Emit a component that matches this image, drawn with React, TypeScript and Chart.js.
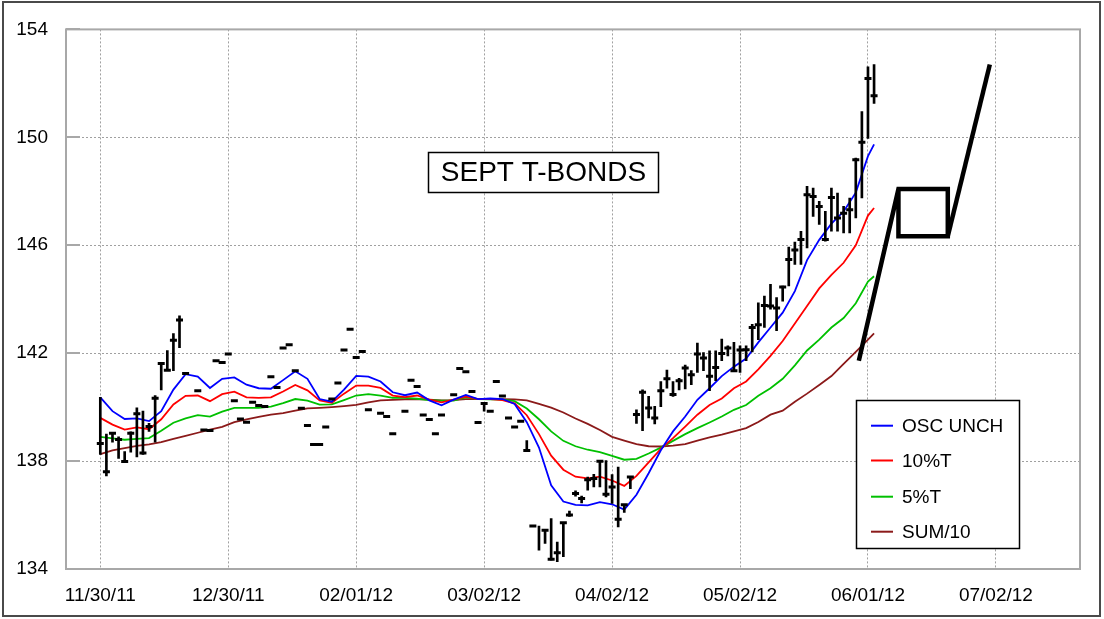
import React, { useEffect, useRef } from "react";
import { Chart, registerables } from "chart.js";

Chart.register(...registerables);

// ---------- axis labels ----------
const tickDates = ["11/30/11", "12/30/11", "02/01/12", "03/02/12", "04/02/12", "05/02/12", "06/01/12", "07/02/12"];
const TICK_EVERY = 21; // trading days between date labels
const yTickValues = [134, 138, 142, 146, 150, 154];
const chartTitle = "SEPT T-BONDS";

// ---------- daily bars (index = trading day from 11/30/11) ----------
const barHigh: (number | null)[] = [
  140.36, 139.0, 139.07, 138.9, 138.35, 139.08, 139.97, 139.85, 139.4, 140.43,
  141.66, 142.1, 142.73, 143.38, null, null, null, null, null, null,
  null, null, null, null, null, null, null, null, null, null,
  null, null, null, null, null, null, null, null, null, null,
  null, null, null, null, null, null, null, null, null, null,
  null, null, null, null, null, null, null, null, null, null,
  null, null, null, 140.15, null, null, null, null, null, null,
  138.76, null, 135.59, 135.44, 135.87, 135.0, 135.71, 136.15, 136.9, 136.7,
  137.41, 137.51, 137.99, 138.02, 137.5, 137.78, 136.4, 137.41, 139.9, 140.64,
  140.4, 140.03, 140.95, 141.37, 140.95, 141.07, 141.56, 141.35, 142.37, 142.02,
  142.09, 142.09, 142.52, 142.27, 142.4, 142.27, 142.27, 143.07, 143.87, 144.12,
  144.55, 144.06, 144.49, 145.93, 146.12, 146.52, 148.18, 148.12, 147.63, 147.26,
  148.12, 147.93, 147.44, 147.75, 149.23, 150.95, 152.61, 152.7,
];
const barLow: (number | null)[] = [
  138.25, 137.45, 138.7, 138.1, 137.95, 138.33, 138.15, 138.25, 139.1, 138.7,
  140.64, 141.35, 141.35, 142.2, null, null, null, null, null, null,
  null, null, null, null, null, null, null, null, null, null,
  null, null, null, null, null, null, null, null, null, null,
  null, null, null, null, null, null, null, null, null, null,
  null, null, null, null, null, null, null, null, null, null,
  null, null, null, 139.85, null, null, null, null, null, null,
  138.37, null, 134.7, 134.95, 134.33, 134.27, 134.46, 135.95, 136.7, 136.45,
  136.92, 137.04, 137.04, 136.67, 136.43, 135.56, 136.1, 136.98, 139.4, 139.13,
  139.6, 139.38, 140.02, 140.7, 140.4, 140.64, 140.67, 140.83, 141.29, 141.35,
  140.61, 140.98, 141.72, 141.9, 141.35, 141.29, 141.72, 142.05, 142.5, 142.95,
  143.63, 142.83, 143.93, 144.49, 145.29, 145.29, 145.9, 147.07, 146.77, 146.15,
  146.52, 146.52, 146.46, 146.46, 147.01, 147.75, 149.96, 151.26,
];
const barClose: (number | null)[] = [
  138.65, 137.6, 139.03, 138.8, 137.98, 139.03, 139.75, 138.3, 139.28, 140.33,
  141.62, 141.37, 142.48, 143.23, 141.25, null, 140.61, 139.15, 139.13, 141.72,
  141.65, 141.97, 140.24, 139.56, 139.44, 140.18, 140.06, 140.02, 141.13, 140.73,
  142.19, 142.31, 141.35, 139.96, 139.32, 138.61, 138.61, 139.26, 140.3, 140.89,
  142.12, 142.89, 141.84, 142.06, 139.9, null, 139.77, 139.65, 139.01, null,
  139.85, 141.0, 140.76, 139.71, 139.54, 139.01, 139.71, null, 140.46, 141.43,
  141.31, 140.58, 139.43, 140.13, 139.85, 140.95, 140.41, 139.6, 139.26, 139.48,
  138.39, 135.59, null, 135.44, 134.36, 134.6, 135.71, 136.0, 136.8, 136.61,
  137.31, 137.35, 137.99, 136.77, 137.04, 135.84, 136.38, 137.41, 139.73, 140.55,
  139.97, 139.6, 140.61, 141.05, 140.47, 140.98, 141.45, 141.2, 141.97, 141.82,
  141.14, 141.47, 141.99, 142.19, 141.35, 142.12, 142.13, 142.95, 143.05, 143.77,
  143.75, 143.67, 144.45, 145.47, 145.82, 146.21, 147.87, 147.81, 147.44, 146.21,
  147.77, 147.01, 147.19, 147.32, 149.17, 149.82, 152.18, 151.54,
];

// ---------- moving-average style lines (read every 2nd day) ----------
const maIndex = [
  0, 2, 4, 6, 8, 10, 12, 14, 16, 18,
  20, 22, 24, 26, 28, 30, 32, 34, 36, 38,
  40, 42, 44, 46, 48, 50, 52, 54, 56, 58,
  60, 62, 64, 66, 68, 70, 72, 74, 76, 78,
  80, 82, 84, 86, 88, 90, 92, 94, 96, 98,
  100, 102, 104, 106, 108, 110, 112, 114, 116, 118,
  120, 122, 124, 126, 127,
];
const oscUnch = [
  140.36, 139.85, 139.56, 139.58, 139.48, 139.85, 140.65, 141.22, 141.13, 140.71,
  141.05, 141.1, 140.83, 140.7, 140.68, 141.0, 141.33, 141.05, 140.3, 140.2,
  140.65, 141.16, 141.13, 140.95, 140.55, 140.44, 140.54, 140.25, 140.07, 140.28,
  140.45, 140.3, 140.32, 140.3, 140.12, 139.44, 138.5, 137.1, 136.5, 136.38,
  136.36, 136.48, 136.4, 136.2, 136.75, 137.55, 138.4, 139.1, 139.65, 140.27,
  140.7, 141.15, 141.5, 141.8, 142.4, 142.95, 143.5, 144.3, 145.45, 146.2,
  146.8, 147.25, 147.95, 149.3, 149.74,
];
const tenPctT = [
  139.6, 139.35, 139.17, 139.25, 139.18, 139.55, 140.1, 140.42, 140.43, 140.22,
  140.48, 140.57, 140.36, 140.34, 140.36, 140.58, 140.82, 140.62, 140.25, 140.16,
  140.5, 140.8, 140.8, 140.71, 140.43, 140.37, 140.43, 140.28, 140.18, 140.28,
  140.39, 140.3, 140.3, 140.26, 140.14, 139.7, 139.0, 138.2, 137.68, 137.42,
  137.36, 137.42, 137.28, 137.08, 137.45, 137.95, 138.45, 138.85, 139.28, 139.72,
  140.08, 140.32, 140.7, 140.95, 141.4, 141.9, 142.45, 143.1, 143.75, 144.4,
  144.9, 145.35, 146.0, 147.1, 147.38,
];
const fivePctT = [
  138.9, 138.84, 138.79, 138.82, 138.85, 139.12, 139.42, 139.58, 139.7, 139.65,
  139.83, 139.97, 139.97, 139.97, 140.02, 140.15, 140.3, 140.24, 140.09, 140.1,
  140.26, 140.43, 140.48, 140.43, 140.34, 140.34, 140.31, 140.26, 140.24, 140.24,
  140.36, 140.3, 140.29, 140.28, 140.22, 139.95, 139.55, 139.1, 138.75, 138.55,
  138.42, 138.33, 138.19, 138.05, 138.08, 138.28, 138.5, 138.75, 139.0, 139.22,
  139.43, 139.65, 139.9, 140.08, 140.42, 140.7, 141.05, 141.55, 142.1, 142.5,
  142.95, 143.3, 143.85, 144.65, 144.85,
];
const sum10 = [
  138.26, 138.4, 138.48, 138.56, 138.62, 138.7, 138.82, 138.93, 139.05, 139.17,
  139.27, 139.44, 139.55, 139.64, 139.72, 139.78, 139.87, 139.95, 139.97, 140.0,
  140.04, 140.08, 140.18, 140.25, 140.27, 140.29, 140.3, 140.28, 140.25, 140.26,
  140.3, 140.3, 140.3, 140.3, 140.29, 140.25, 140.12, 139.98, 139.8, 139.58,
  139.38, 139.15, 138.9, 138.76, 138.63, 138.55, 138.54, 138.57, 138.63, 138.76,
  138.88, 138.98, 139.1, 139.22, 139.45, 139.72, 139.87, 140.2, 140.5, 140.82,
  141.15, 141.6, 142.05, 142.5, 142.73,
];

// ---------- projected path (thick black) ----------
const projX = [124.5, 131.0, 139.1, 139.1, 131.0, 131.0];
const projY = [141.72, 148.08, 148.08, 146.33, 146.33, 148.08];
const projTailX = [139.1, 146.0];
const projTailY = [146.33, 152.7];

const legendLabels = ["OSC UNCH", "10%T", "5%T", "SUM/10"];
const legendColors = ["#0000ff", "#ff0000", "#00c000", "#8b1a1a"];

const FONT = "'Liberation Sans', Arial, sans-serif";

export default function App() {
  const ref = useRef<HTMLCanvasElement>(null);

  useEffect(() => {
    const canvas = ref.current;
    if (!canvas) return;
    const toXY = (xs: number[], ys: number[]) => xs.map((x, i) => ({ x, y: ys[i] }));

    const rangeData: any[] = [];
    const closeData: any[] = [];
    for (let i = 0; i < barClose.length; i++) {
      const h = barHigh[i];
      const l = barLow[i];
      const c = barClose[i];
      if (h != null && l != null) rangeData.push({ x: i, y: [l, h] });
      if (c != null) closeData.push({ x: i, y: c });
    }

    const maSeries = [oscUnch, tenPctT, fivePctT, sum10];
    const lineSets = maSeries.map((ys, k) => ({
      type: "line",
      label: legendLabels[k],
      data: toXY(maIndex, ys),
      borderColor: legendColors[k],
      backgroundColor: legendColors[k],
      borderWidth: 1.8,
      pointRadius: 0,
      tension: 0,
      fill: false,
      order: 3,
    }));

    const decor = {
      id: "decor",
      beforeDraw(chart: any) {
        const ctx = chart.ctx;
        ctx.save();
        ctx.fillStyle = "#ffffff";
        ctx.fillRect(0, 0, chart.width, chart.height);
        ctx.restore();
      },
      afterDraw(chart: any) {
        const { ctx, chartArea: a, scales } = chart;
        ctx.save();
        // plot frame
        ctx.strokeStyle = "#a8a8a8";
        ctx.lineWidth = 2;
        ctx.strokeRect(a.left, a.top, a.right - a.left, a.bottom - a.top);
        // inner tick marks on the value axis
        yTickValues.forEach((v) => {
          const y = Math.round(scales.y.getPixelForValue(v));
          ctx.beginPath();
          ctx.moveTo(a.left, y);
          ctx.lineTo(a.left + 14, y);
          ctx.stroke();
        });
        // outer border
        ctx.strokeStyle = "#4a4a4a";
        ctx.lineWidth = 2;
        ctx.strokeRect(3, 2, 1097, 614);

        // title box
        ctx.fillStyle = "#ffffff";
        ctx.fillRect(428, 152, 231, 40);
        ctx.strokeStyle = "#000";
        ctx.lineWidth = 1.5;
        ctx.strokeRect(428.5, 152.5, 230, 40);
        ctx.fillStyle = "#000";
        ctx.font = `28px ${FONT}`;
        ctx.textAlign = "center";
        ctx.textBaseline = "middle";
        ctx.fillText(chartTitle, 543.5, 173.5);

        // legend box
        ctx.fillStyle = "#ffffff";
        ctx.fillRect(856, 400, 164, 149);
        ctx.strokeStyle = "#000";
        ctx.lineWidth = 1.5;
        ctx.strokeRect(856.5, 400.5, 163, 148);
        const rows = [425.7, 460.5, 496.7, 531.7];
        ctx.font = `19px ${FONT}`;
        ctx.textAlign = "left";
        ctx.textBaseline = "middle";
        legendLabels.forEach((lab, k) => {
          ctx.strokeStyle = legendColors[k];
          ctx.lineWidth = 2;
          ctx.beginPath();
          ctx.moveTo(871, rows[k]);
          ctx.lineTo(893, rows[k]);
          ctx.stroke();
          ctx.fillStyle = "#000";
          ctx.fillText(lab, 902, rows[k] + 1);
        });
        ctx.restore();
      },
    };

    const borderOpts = { display: false, dash: [2, 2] };

    const chart = new Chart(canvas, {
      type: "bar",
      data: {
        datasets: [
          ...lineSets,
          {
            type: "bar",
            label: "range",
            data: rangeData,
            backgroundColor: "#000",
            barThickness: 2,
            grouped: false,
            order: 2,
          },
          {
            type: "scatter",
            label: "close",
            data: closeData,
            pointStyle: "line",
            pointRadius: 3.5,
            pointBorderColor: "#000",
            pointBackgroundColor: "#000",
            pointBorderWidth: 3,
            borderColor: "#000",
            order: 1,
          },
          {
            type: "line",
            label: "proj",
            data: toXY(projX, projY),
            borderColor: "#000",
            borderWidth: 4.5,
            pointRadius: 0,
            tension: 0,
            fill: false,
            order: 0,
          },
          {
            type: "line",
            label: "projTail",
            data: toXY(projTailX, projTailY),
            borderColor: "#000",
            borderWidth: 4.5,
            pointRadius: 0,
            tension: 0,
            fill: false,
            order: 0,
          },
        ] as any,
      },
      options: {
        animation: false,
        responsive: true,
        maintainAspectRatio: false,
        layout: { padding: { left: 0, right: 24, top: 27, bottom: 0 } },
        plugins: { legend: { display: false }, tooltip: { enabled: false } },
        scales: {
          x: {
            type: "linear",
            min: -5.63,
            max: 160.8,
            offset: false,
            afterBuildTicks: (s: any) => {
              s.ticks = tickDates.map((_, k) => ({ value: k * TICK_EVERY }));
            },
            afterFit: (s: any) => {
              s.height = 50;
            },
            grid: { color: "#a0a0a0", lineWidth: 1, drawTicks: false, offset: false },
            border: borderOpts,
            ticks: {
              autoSkip: false,
              maxRotation: 0,
              padding: 15,
              color: "#000",
              font: { family: FONT, size: 19 },
              callback: (_v: any, i: number) => tickDates[i] ?? "",
            },
          },
          y: {
            type: "linear",
            min: 134,
            max: 154,
            afterBuildTicks: (s: any) => {
              s.ticks = yTickValues.map((v) => ({ value: v }));
            },
            afterFit: (s: any) => {
              s.width = 66;
            },
            grid: { color: "#a0a0a0", lineWidth: 1, drawTicks: false, offset: false },
            border: borderOpts,
            ticks: {
              padding: 18,
              color: "#000",
              font: { family: FONT, size: 19 },
            },
          },
        },
      } as any,
      plugins: [decor],
    });

    return () => chart.destroy();
  }, []);

  return (
    <div style={{ position: "absolute", left: 0, top: 0, width: 1104, height: 619 }}>
      <canvas ref={ref} />
    </div>
  );
}
